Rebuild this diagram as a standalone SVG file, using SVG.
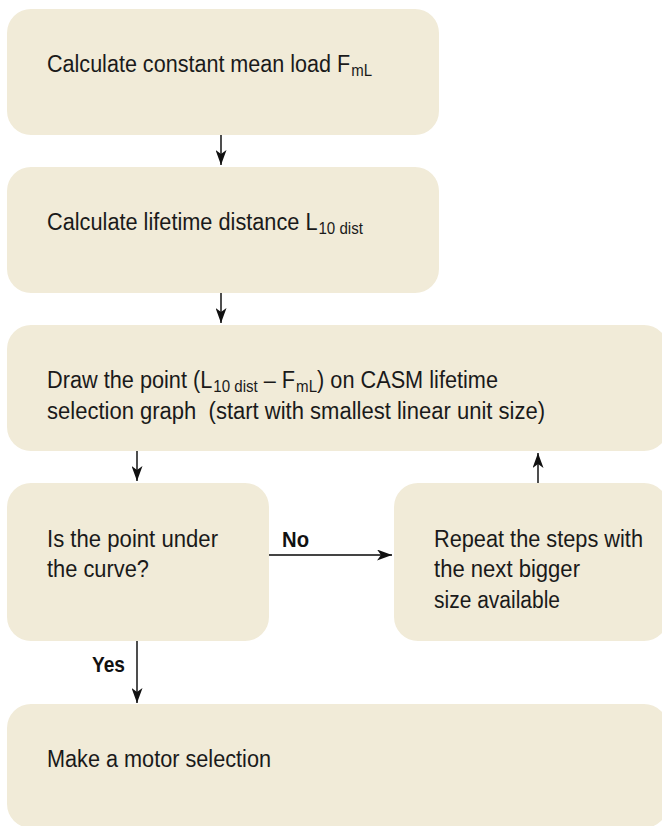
<svg xmlns="http://www.w3.org/2000/svg" width="662" height="826" viewBox="0 0 662 826">
<style>
.box{fill:#F1EBD8;stroke:none}
.t{font-family:"Liberation Sans",Arial,sans-serif;font-size:23px;fill:#1a1a1a}
.sub{font-size:16px}
.lbl{font-family:"Liberation Sans",Arial,sans-serif;font-size:22px;font-weight:bold;fill:#111}
.c{stroke:#222;stroke-width:1.6;fill:none;marker-end:url(#ah)}
.cg{stroke:#444;stroke-width:2;fill:none;marker-end:url(#ah)}
</style>
<defs>
<marker id="ah" viewBox="0 0 15 11" refX="15" refY="5.5" markerWidth="15" markerHeight="11" markerUnits="userSpaceOnUse" orient="auto">
<path d="M0,0 L15,5.5 L0,11 L4,5.5 z" fill="#111"/>
</marker>
</defs>
<g id="n1">
<rect class="box" x="7" y="9" width="432" height="126" rx="24"/>
<text class="t" x="47" y="72" textLength="325" lengthAdjust="spacingAndGlyphs">Calculate constant mean load F<tspan class="sub" dx="1" dy="4">mL</tspan></text>
</g>
<g id="n2">
<rect class="box" x="7" y="167" width="432" height="126" rx="24"/>
<text class="t" x="47" y="230" textLength="316" lengthAdjust="spacingAndGlyphs">Calculate lifetime distance L<tspan class="sub" dx="1" dy="4">10 dist</tspan></text>
</g>
<g id="n3">
<rect class="box" x="7" y="325" width="661" height="126" rx="24"/>
<text class="t" x="47" y="388" textLength="451" lengthAdjust="spacingAndGlyphs">Draw the point (L<tspan class="sub" dx="1" dy="4">10 dist</tspan><tspan dy="-4"> – F</tspan><tspan class="sub" dx="1" dy="4">mL</tspan><tspan dy="-4">) on CASM lifetime</tspan></text>
<text class="t" x="47" y="419" textLength="498" lengthAdjust="spacingAndGlyphs" xml:space="preserve">selection graph  (start with smallest linear unit size)</text>
</g>
<g id="n4">
<rect class="box" x="7" y="483" width="262" height="158" rx="24"/>
<text class="t" x="47" y="547" textLength="171" lengthAdjust="spacingAndGlyphs">Is the point under</text>
<text class="t" x="47" y="577" textLength="102" lengthAdjust="spacingAndGlyphs">the curve?</text>
</g>
<g id="n5">
<rect class="box" x="394" y="483" width="274" height="158" rx="24"/>
<text class="t" x="434" y="547" textLength="209" lengthAdjust="spacingAndGlyphs">Repeat the steps with</text>
<text class="t" x="434" y="577" textLength="146" lengthAdjust="spacingAndGlyphs">the next bigger</text>
<text class="t" x="434" y="608" textLength="126" lengthAdjust="spacingAndGlyphs">size available</text>
</g>
<g id="n6">
<rect class="box" x="7" y="704" width="661" height="124" rx="24"/>
<text class="t" x="47" y="767" textLength="224" lengthAdjust="spacingAndGlyphs">Make a motor selection</text>
</g>
<g id="connectors">
<line class="c" x1="221" y1="135" x2="221" y2="165"/>
<line class="c" x1="221" y1="293" x2="221" y2="323"/>
<line class="c" x1="137" y1="451" x2="137" y2="481"/>
<line class="c" x1="538" y1="483" x2="538" y2="453"/>
<line class="cg" x1="269" y1="555" x2="392" y2="555"/>
<line class="c" x1="137" y1="641" x2="137" y2="703"/>
<text class="lbl" x="282" y="547" textLength="27" lengthAdjust="spacingAndGlyphs">No</text>
<text class="lbl" x="92" y="672" textLength="33" lengthAdjust="spacingAndGlyphs">Yes</text>
</g>
</svg>
